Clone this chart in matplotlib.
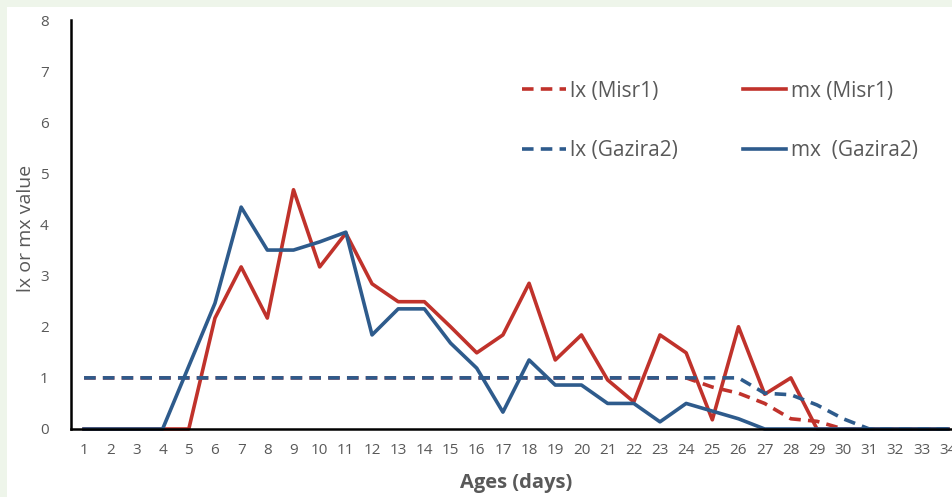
import matplotlib.pyplot as plt

ages = list(range(1, 35))

lx_misr1 = [1] * 24 + [0.82, 0.7, 0.5, 0.2, 0.15, 0, 0, 0, 0, 0]
mx_misr1 = [0, 0, 0, 0, 0, 2.17, 3.17, 2.17, 4.68, 3.17, 3.83, 2.84, 2.49, 2.49,
            2.0, 1.49, 1.84, 2.85, 1.35, 1.84, 0.96, 0.53, 1.84, 1.49, 0.18, 2.0,
            0.68, 1.0, 0, 0, 0, 0, 0, 0]
lx_gazira2 = [1] * 26 + [0.7, 0.67, 0.47, 0.2, 0, 0, 0, 0]
mx_gazira2 = [0, 0, 0, 0, 1.23, 2.46, 4.34, 3.5, 3.5, 3.66, 3.85, 1.84, 2.35, 2.35,
              1.68, 1.19, 0.33, 1.35, 0.86, 0.86, 0.5, 0.5, 0.14, 0.5, 0.35, 0.2,
              0, 0, 0, 0, 0, 0, 0, 0]

red = "#c0322b"
blue = "#2e5b8c"
grey = "#595959"

plt.rcParams["font.family"] = ["Open Sans", "DejaVu Sans"]

fig = plt.figure(figsize=(9.53, 4.97), dpi=100)
fig.patch.set_facecolor("#eef5ea")
# white panel inside the thin green frame
fig.patches.append(plt.Rectangle((7 / 953, 0), 1, 1 - 7 / 497, transform=fig.transFigure,
                                 facecolor="white", edgecolor="none", zorder=-5))

ax = fig.add_axes([71 / 953, 68 / 497, 890 / 953, 409 / 497])
ax.set_facecolor("none")
ax.set_zorder(2)

dash = (3.2, 2.0)
l1, = ax.plot(ages, lx_misr1, color=red, lw=2.6, dashes=dash, clip_on=False, label="lx (Misr1)")
l2, = ax.plot(ages, mx_misr1, color=red, lw=2.6, clip_on=False, label="mx (Misr1)")
l3, = ax.plot(ages, lx_gazira2, color=blue, lw=2.6, dashes=dash, clip_on=False, label="lx (Gazira2)")
l4, = ax.plot(ages, mx_gazira2, color=blue, lw=2.6, clip_on=False, label="mx  (Gazira2)")

ax.set_xlim(0.5, 34.5)
ax.set_ylim(0, 8)
ax.set_xticks(ages)
ax.set_yticks(range(0, 9))
ax.tick_params(axis="both", length=0, labelsize=11, labelcolor=grey)
ax.tick_params(axis="x", pad=10)
ax.tick_params(axis="y", pad=16)

for s in ["top", "right"]:
    ax.spines[s].set_visible(False)
ax.spines["left"].set_linewidth(1.8)
ax.spines["bottom"].set_linewidth(1.8)

ax.set_xlabel("Ages (days)", fontsize=14.5, color=grey, fontweight="bold")
ax.set_ylabel("lx or mx value", fontsize=14, color=grey)
ax.xaxis.set_label_coords(0.5, -0.108)
ax.yaxis.set_label_coords(-0.04, 0.49)

leg = ax.legend(handles=[l1, l3, l2, l4], ncol=2, frameon=False, fontsize=15,
                handlelength=2.1, handletextpad=0.2, columnspacing=3.1,
                labelspacing=1.85, borderpad=0, borderaxespad=0,
                loc="upper left", bbox_to_anchor=(0.507, 0.852))
for t in leg.get_texts():
    t.set_color(grey)

fig.savefig("out.png", dpi=100, facecolor=fig.get_facecolor())
